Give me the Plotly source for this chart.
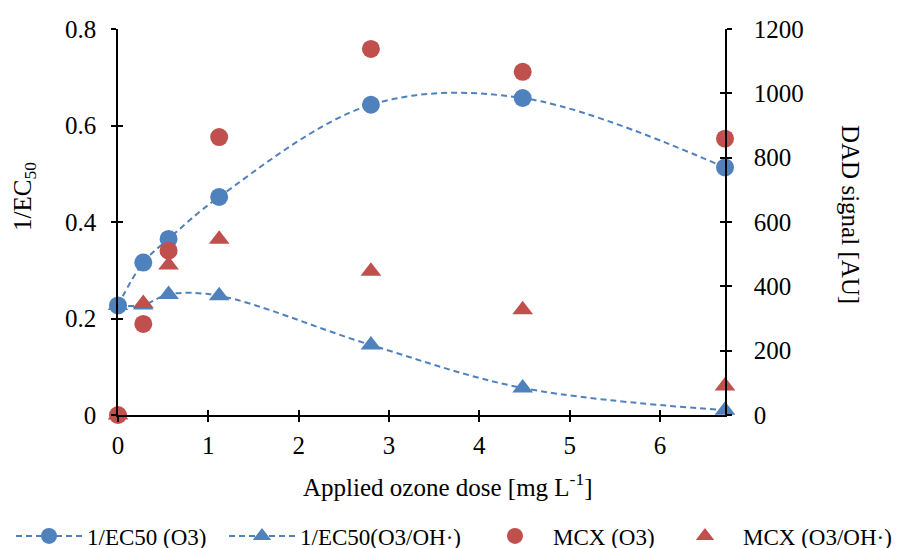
import plotly.graph_objects as go

dose = [0, 0.28, 0.56, 1.12, 2.8, 4.48, 6.72]
ec50_o3 = [0.227, 0.316, 0.365, 0.452, 0.643, 0.657, 0.513]
ec50_o3oh = [0.227, 0.228, 0.250, 0.247, 0.145, 0.056, 0.010]
mcx_o3 = [0, 283, 511, 864, 1138, 1067, 859]
mcx_o3oh = [0, 347, 466, 546, 447, 327, 90]

BLUE = "#4F81BD"
RED = "#C0504D"
FONT = "Liberation Serif, Times New Roman, serif"

fig = go.Figure()
fig.add_trace(go.Scatter(x=dose, y=ec50_o3, name="1/EC50 (O3)", mode="lines+markers",
                         line=dict(color=BLUE, width=2, dash="6px,4px", shape="spline", smoothing=1),
                         marker=dict(symbol="circle", size=18, color=BLUE),
                         cliponaxis=False, legend="legend"))
fig.add_trace(go.Scatter(x=dose, y=ec50_o3oh, name="1/EC50(O3/OH·)", mode="lines+markers",
                         line=dict(color=BLUE, width=2, dash="6px,4px", shape="spline", smoothing=1),
                         marker=dict(symbol="triangle-up", size=18, color=BLUE),
                         cliponaxis=False, legend="legend2"))
fig.add_trace(go.Scatter(x=dose, y=mcx_o3, name="MCX (O3)", mode="markers", yaxis="y2",
                         marker=dict(symbol="circle", size=18, color=RED),
                         cliponaxis=False, legend="legend3"))
fig.add_trace(go.Scatter(x=dose, y=mcx_o3oh, name="MCX (O3/OH·)", mode="markers", yaxis="y2",
                         marker=dict(symbol="triangle-up", size=18, color=RED),
                         cliponaxis=False, legend="legend4"))

# page body has an 8px margin: figure is laid out in screen pixels minus 8
OFF = 8
FW, FH = 901 - OFF, 548 - OFF
PL, PR, PT, PB = 118, 725, 29, 415          # plot area in screen pixels
PW, PH = PR - PL, PB - PT
L, T = PL - OFF, PT - OFF
R = FW - L - PW
B = FH - T - PH

def lx(px):
    return (px - PL) / PW

def ly(py):
    return (PB - py) / PH

TICKFONT = dict(family=FONT, size=25, color="black")
axis_common = dict(showgrid=False, zeroline=False, linecolor="black", linewidth=1.5,
                   tickcolor="black", ticklen=5, tickwidth=1.5, tickfont=TICKFONT)
inner_common = dict(showticklabels=False, showline=False, showgrid=False, zeroline=False,
                    tickcolor="black", ticklen=5, tickwidth=1.5, ticks="inside")

fig.update_layout(
    width=FW, height=FH,
    margin=dict(l=L, r=R, t=T, b=B, autoexpand=False),
    paper_bgcolor="white", plot_bgcolor="white",
    font=dict(family=FONT, color="black"),
    xaxis=dict(range=[0, 6.72], tickvals=[0, 1, 2, 3, 4, 5, 6], ticks="outside",
               showline=True, ticklabelstandoff=2, **axis_common),
    xaxis2=dict(range=[0, 6.72], tickvals=[0, 1, 2, 3, 4, 5, 6], overlaying="x", **inner_common),
    yaxis=dict(range=[0, 0.8], tickvals=[0, 0.2, 0.4, 0.6, 0.8], ticks="outside",
               showline=True, ticklabelstandoff=10, **axis_common),
    yaxis2=dict(range=[0, 1200], tickvals=[0, 200, 400, 600, 800, 1000, 1200], ticks="outside",
                overlaying="y", side="right", showline=True, ticklabelstandoff=17, **axis_common),
    yaxis3=dict(range=[0, 0.8], tickvals=[0, 0.2, 0.4, 0.6, 0.8], overlaying="y", **inner_common),
    yaxis4=dict(range=[0, 1200], tickvals=[0, 200, 400, 600, 800, 1000, 1200],
                overlaying="y", side="right", **inner_common),
    showlegend=True,
)

leg_common = dict(orientation="h", yanchor="middle", y=ly(536), xanchor="left", itemwidth=66,
                  font=dict(family=FONT, size=23, color="black"), bgcolor="rgba(0,0,0,0)")
fig.update_layout(
    legend=dict(x=lx(11), **leg_common),
    legend2=dict(x=lx(224), **leg_common),
    legend3=dict(x=lx(477), **leg_common),
    legend4=dict(x=lx(667), **leg_common),
)

# invisible traces so the overlay tick axes render
fig.add_trace(go.Scatter(x=[None], y=[None], xaxis="x2", yaxis="y3", showlegend=False, hoverinfo="skip"))
fig.add_trace(go.Scatter(x=[None], y=[None], xaxis="x2", yaxis="y4", showlegend=False, hoverinfo="skip"))

fig.add_annotation(text="1/EC<sub>50</sub>", xref="paper", yref="paper", x=lx(24), y=ly(197),
                   xanchor="center", yanchor="middle",
                   showarrow=False, textangle=-90, font=dict(family=FONT, size=25, color="black"))
fig.add_annotation(text="DAD signal [AU]", xref="paper", yref="paper", x=lx(851), y=ly(214),
                   xanchor="center", yanchor="middle",
                   showarrow=False, textangle=90, font=dict(family=FONT, size=25, color="black"))
fig.add_annotation(text="Applied ozone dose [mg L<sup>-1</sup>]", xref="paper", yref="paper",
                   x=lx(448), y=ly(485), xanchor="center", yanchor="middle", showarrow=False,
                   font=dict(family=FONT, size=25, color="black"))

fig.write_html("out.html")
